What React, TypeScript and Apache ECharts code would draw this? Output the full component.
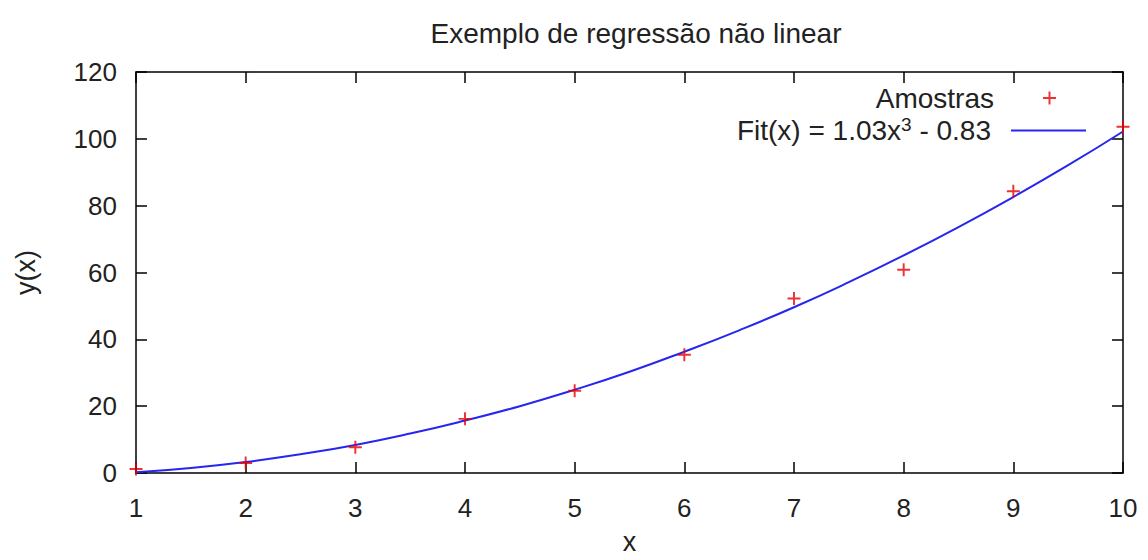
import React, { useEffect, useRef } from "react";
import * as echarts from "echarts";

const sampleX = [1, 2, 3, 4, 5, 6, 7, 8, 9, 10];
const sampleY = [1.2, 3.0, 7.7, 16.2, 24.6, 35.4, 52.2, 60.8, 84.3, 103.6];
const fitX = [1, 1.5, 2, 2.5, 3, 3.5, 4, 4.5, 5, 5.5, 6, 6.5, 7, 7.5, 8, 8.5, 9, 9.5, 10];
const fitY = [0.2, 1.5, 3.3, 5.6, 8.4, 11.8, 15.7, 20.0, 24.9, 30.3, 36.3, 42.7, 49.6, 57.1, 65.1, 73.6, 82.6, 92.1, 102.2];
const yTicks = [0, 20, 40, 60, 80, 100, 120];

const FONT = "'Liberation Sans', Arial, Helvetica, sans-serif";
const PLUS = "path://M5.1,0h1.8v5.1h5.1v1.8h-5.1v5.1h-1.8v-5.1h-5.1v-1.8h5.1z";

export default function App() {
  const ref = useRef<HTMLDivElement>(null);
  useEffect(() => {
    if (!ref.current) return;
    const chart = echarts.init(ref.current, null, { renderer: "svg" });
    const axisCommon = {
      axisLine: { show: true, onZero: false, lineStyle: { color: "#000", width: 1.5 } },
      axisTick: { show: true, inside: true, length: 11, lineStyle: { color: "#000", width: 1.5 } },
      splitLine: { show: false },
    };
    chart.setOption({
      animation: false,
      backgroundColor: "#fff",
      textStyle: { fontFamily: FONT },
      title: {
        text: "Exemplo de regressão não linear",
        left: 631,
        top: 14,
        textAlign: "center",
        textStyle: { fontFamily: FONT, fontSize: 28, fontWeight: "normal", color: "#222" },
      },
      grid: { left: 136, right: 25, top: 72, bottom: 84, containLabel: false },
      legend: [
        {
          data: [{ name: "Amostras", icon: PLUS }],
          orient: "vertical",
          align: "right",
          right: 87,
          top: 79,
          itemWidth: 13,
          itemHeight: 13,
          textStyle: { fontFamily: FONT, fontSize: 28, color: "#222", padding: [0, 44, 0, 0] },
        },
        {
          data: [{ name: "Fit", icon: "rect", itemStyle: { color: "#2626f0" } }],
          orient: "vertical",
          align: "right",
          right: 57,
          top: 110,
          itemWidth: 75,
          itemHeight: 2,
          formatter: () => "Fit(x) = 1.03x{sup|3} - 0.83",
          textStyle: {
            fontFamily: FONT,
            fontSize: 28,
            color: "#222",
            padding: [0, 15, 0, 0],
            rich: { sup: { fontSize: 19, verticalAlign: "top", padding: [0, 0, 12, 0], fontFamily: FONT, color: "#222" } },
          },
        },
      ],
      xAxis: [
        {
          type: "value",
          min: 1,
          max: 10,
          interval: 1,
          position: "bottom",
          name: "x",
          nameLocation: "middle",
          nameGap: 55,
          nameTextStyle: { fontFamily: FONT, fontSize: 27, color: "#222" },
          axisLabel: { fontFamily: FONT, fontSize: 26, color: "#222", margin: 22 },
          ...axisCommon,
        },
        {
          type: "value",
          min: 1,
          max: 10,
          interval: 1,
          position: "top",
          axisLabel: { show: false },
          ...axisCommon,
        },
      ],
      yAxis: [
        {
          type: "value",
          min: yTicks[0],
          max: yTicks[yTicks.length - 1],
          interval: 20,
          position: "left",
          name: "y(x)",
          nameLocation: "middle",
          nameGap: 97,
          nameRotate: 90,
          nameTextStyle: { fontFamily: FONT, fontSize: 27, color: "#222" },
          axisLabel: { fontFamily: FONT, fontSize: 26, color: "#222", margin: 19 },
          ...axisCommon,
        },
        {
          type: "value",
          min: yTicks[0],
          max: yTicks[yTicks.length - 1],
          interval: 20,
          position: "right",
          axisLabel: { show: false },
          ...axisCommon,
        },
      ],
      series: [
        {
          name: "Fit",
          type: "line",
          data: fitX.map((x, i) => [x, fitY[i]]),
          smooth: true,
          showSymbol: false,
          symbol: "none",
          lineStyle: { color: "#2626f0", width: 2 },
          itemStyle: { color: "#2626f0" },
          z: 2,
        },
        {
          name: "Amostras",
          type: "scatter",
          data: sampleX.map((x, i) => [x, sampleY[i]]),
          symbol: PLUS,
          symbolSize: 13,
          itemStyle: { color: "#e60000" },
          z: 3,
        },
      ],
    });
    return () => chart.dispose();
  }, []);
  return <div ref={ref} style={{ width: 1148, height: 560, position: "absolute", left: 0, top: 0 }} />;
}
